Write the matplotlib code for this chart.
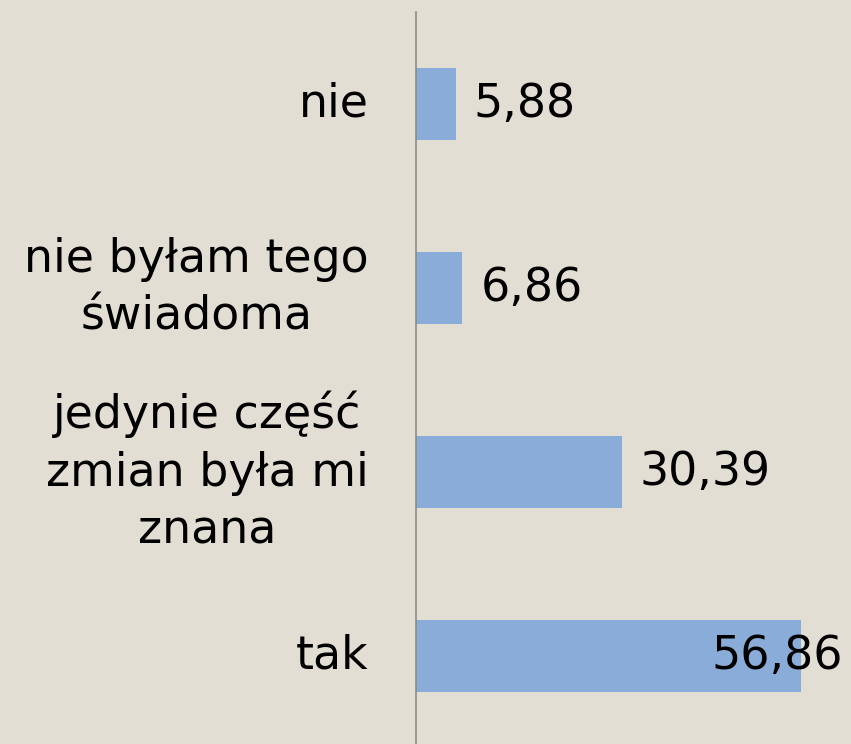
import matplotlib
matplotlib.use("Agg")
import matplotlib.pyplot as plt

categories = ["tak", "jedynie część\nzmian była mi\nznana", "nie byłam tego\nświadoma", "nie"]
values = [56.86, 30.39, 6.86, 5.88]
value_labels = ["56,86", "30,39", "6,86", "5,88"]

BG = "#E3DED3"
BAR = "#8AACD8"
FONT = "DejaVu Sans"

W, H = 851, 744
fig = plt.figure(figsize=(W / 100, H / 100), dpi=100, facecolor=BG)
ax_left = 416 / W
ax_right = 843 / W
ax_top = 1 - 12 / H
ax_bot = 1 - 748 / H
ax = fig.add_axes([ax_left, ax_bot, ax_right - ax_left, ax_top - ax_bot])
ax.set_facecolor(BG)
ax.patch.set_alpha(0)

y = list(range(len(categories)))
ax.barh(y, values, height=0.39, color=BAR, zorder=2)
xmax = 427 / 6.77
ax.set_xlim(0, xmax)
ax.set_ylim(-0.5, len(categories) - 0.5)

for s in ["top", "right", "bottom"]:
    ax.spines[s].set_visible(False)
ax.spines["left"].set_color("#8C8C8C")
ax.spines["left"].set_linewidth(1.2)
ax.set_xticks([])
ax.set_yticks([])

fs = 33
for yi, c in zip(y, categories):
    ax.annotate(c, xy=(0, yi), xycoords="data", xytext=(-34, 0), textcoords="offset points",
                ha="right", va="center", multialignment="center", fontsize=fs,
                family=FONT, color="black", linespacing=1.36)

for yi, v, lab in zip(y, values, value_labels):
    ax.annotate(lab, xy=(v, yi), xycoords="data", xytext=(13, 0), textcoords="offset points",
                ha="left", va="center", fontsize=fs, family=FONT, color="black", zorder=3)
# last label clamped to plot area
fig.canvas.draw()
r = fig.canvas.get_renderer()
for t in ax.texts:
    bb = t.get_window_extent(r)
    if bb.x1 > 843:
        t.set_position((t.xyann[0] - (bb.x1 - 843) * 72 / 100, t.xyann[1]))

fig.savefig("out.png", dpi=100, facecolor=BG)
